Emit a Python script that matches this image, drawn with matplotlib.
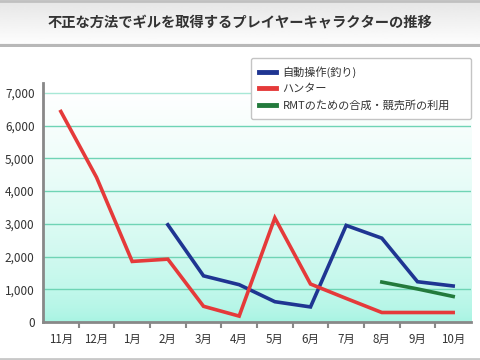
import numpy as np
import matplotlib
matplotlib.use('Agg')
import matplotlib.pyplot as plt
from matplotlib.ticker import FuncFormatter
from matplotlib.colors import LinearSegmentedColormap

plt.rcParams['font.family'] = ['Noto Sans CJK JP', 'DejaVu Sans']

# ---- data ----
months = ['11月', '12月', '1月', '2月', '3月', '4月', '5月', '6月', '7月', '8月', '9月', '10月']
auto_fish = [None, None, None, 2970, 1410, 1140, 620, 460, 2950, 2560, 1230, 1100]
hunter = [6430, 4420, 1850, 1920, 480, 180, 3180, 1160, 720, 290, 290, 290]
rmt = [None, None, None, None, None, None, None, None, None, 1220, 1010, 780]

series_names = ['自動操作(釣り)', 'ハンター', 'RMTのための合成・競売所の利用']
series_colors = ['#1f3592', '#e53a3a', '#237a3c']
title = '不正な方法でギルを取得するプレイヤーキャラクターの推移'

fig = plt.figure(figsize=(4.8, 3.6), dpi=100)
fig.patch.set_facecolor('white')

# title banner
banner = fig.add_axes([0, 1 - 47 / 360, 1, 47 / 360])
grad = np.linspace(0.90, 1.0, 64).reshape(-1, 1)
banner.imshow(grad, cmap='gray', vmin=0, vmax=1, aspect='auto', extent=[0, 1, 0, 1])
banner.axhline(0.985, color='#c0c0c0', lw=2)
banner.axhline(0.02, color='#b8b8b8', lw=3)
banner.text(0.5, 0.53, title, ha='center', va='center', fontsize=10.3,
            fontweight='bold', color='#333333')
banner.set_xlim(0, 1)
banner.set_ylim(0, 1)
banner.axis('off')

# bottom rule
fig.add_artist(plt.Line2D([0, 1], [1 - 358.5 / 360] * 2, color='#c8c8c8', lw=2))

ax = fig.add_axes([43 / 480, 1 - 322 / 360, 428 / 480, 239 / 360])
x = np.arange(len(months))
ax.set_xlim(-0.5, len(months) - 0.5)
ax.set_ylim(0, 7300)

# background gradient (only up to 7000), mostly white in the upper part
bg = np.linspace(0, 1, 128) ** 0.6
cmap = LinearSegmentedColormap.from_list('bg', ['#a6f4e2', '#ffffff'])
ax.imshow(bg.reshape(-1, 1), cmap=cmap, aspect='auto', origin='lower',
          extent=[-0.5, len(months) - 0.5, 0, 7000], zorder=0)

for v in range(1000, 7001, 1000):
    ax.axhline(v, color='#6fd4b5' if v < 7000 else '#a8e8d6', lw=1, zorder=1)

def to_arr(vals):
    return np.array([np.nan if v is None else v for v in vals], dtype=float)

for vals, name, col in zip([auto_fish, hunter, rmt], series_names, series_colors):
    ax.plot(x, to_arr(vals), color=col, lw=2.6, label=name, zorder=3,
            solid_joinstyle='miter')

for s in ['top', 'right']:
    ax.spines[s].set_visible(False)
for s in ['left', 'bottom']:
    ax.spines[s].set_color('#888888')
    ax.spines[s].set_linewidth(2)

ax.set_yticks(range(0, 7001, 1000))
ax.yaxis.set_major_formatter(FuncFormatter(lambda v, p: f'{int(v):,}'))
ax.tick_params(axis='y', length=0, pad=6, labelsize=8.5, labelcolor='#333333')
ax.set_xticks(x)
ax.set_xticklabels(months)
ax.tick_params(axis='x', length=0, pad=8, labelsize=8.3, labelcolor='#333333')
ax.set_xticks(np.arange(0.5, len(months) - 0.5, 1), minor=True)
ax.tick_params(axis='x', which='minor', length=4, width=1.5, color='#888888')

leg = ax.legend(loc='upper left', mode='expand', borderaxespad=0,
                bbox_to_anchor=(251 / 480, 1 - 117 / 360, 220 / 480, 59 / 360),
                bbox_transform=fig.transFigure, fontsize=8,
                handlelength=1.5, handleheight=0.6, handletextpad=0.6,
                frameon=True, fancybox=True, borderpad=0.75, labelspacing=0.55,
                edgecolor='#c4c4c4', framealpha=1)
leg.get_frame().set_linewidth(1)
for line in leg.get_lines():
    line.set_linewidth(3.5)
for t in leg.get_texts():
    t.set_color('#333333')
leg.set_zorder(5)

fig.savefig('out.png', dpi=100)
